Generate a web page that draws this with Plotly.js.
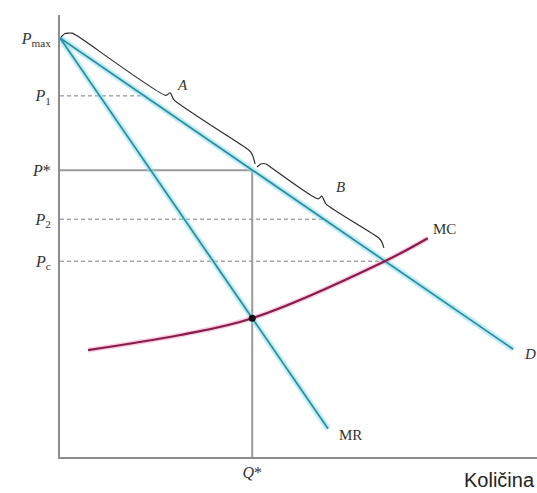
<!DOCTYPE html>
<html>
<head>
<meta charset="utf-8">
<script src="https://cdn.plot.ly/plotly-3.0.1.min.js"></script>
<style>html,body{margin:0;padding:0;background:#fff;}#chart{width:537px;height:493px;}</style>
</head>
<body>
<div id="chart"></div>
<script>
// ---- data ----
const priceLabels = ['<i>P</i><sub>max</sub>', '<i>P</i><sub>1</sub>', '<i>P</i>*', '<i>P</i><sub>2</sub>', '<i>P</i><sub>c</sub>'];
const priceValues = [94.8, 81.7, 64.9, 53.8, 44.3];
const demandQ = [0, 95];
const demandP = [94.8, 24.4];
const mrQ = [0, 56.2];
const mrP = [94.8, 6.4];
const mcQ = [5.9, 25.2, 40.3, 68.1, 77.1];
const mcP = [24.2, 27.6, 31.4, 44.3, 49.5];
const qStar = 40.3;
const mcAtQStar = 31.4;
const qLabel = '<i>Q</i>*';
const braceAQ = [0.2, 1.05, 2.5, 4.0, 22.2, 23.1, 23.9, 39.0, 40.0, 40.5, 40.9];
const braceAP = [95.0, 95.8, 95.9, 95.0, 81.8, 82.4, 80.8, 69.9, 69.0, 67.9, 66.3];
const braceBQ = [41.3, 42.1, 43.2, 44.4, 54.1, 54.9, 55.8, 66.9, 67.5, 67.9];
const braceBP = [65.6, 66.3, 66.3, 65.4, 58.4, 59.0, 57.2, 49.5, 48.6, 47.3];
const curveLabels = ['D', 'MR', 'MC', 'A', 'B'];
const curveLabelQ = [98.6, 60.8, 80.6, 25.6, 58.9];
const curveLabelP = [23.4, 5.0, 51.6, 84.2, 61.0];
const xTitle = 'Količina';

// ---- derived ----
const dSlope = (demandP[1] - demandP[0]) / (demandQ[1] - demandQ[0]);
const qOnDemand = p => (p - demandP[0]) / dSlope;

const teal = '#2c8f9d', tealGlow = 'rgba(140,222,238,0.55)';
const mag = '#8a1c4c', magGlow = 'rgba(240,160,195,0.5)';
const traces = [];

// horizontal guides
priceValues.forEach((p, i) => {
  if (i === 0) return;
  const isStar = i === 2;
  traces.push({x: [0, qOnDemand(p)], y: [p, p], mode: 'lines', hoverinfo: 'skip',
    line: isStar ? {color: '#9a9a9a', width: 2} : {color: '#7a7a7a', width: 1, dash: '4px,3px'}});
});
// vertical Q*
traces.push({x: [qStar, qStar], y: [0, priceValues[2]], mode: 'lines', hoverinfo: 'skip',
  line: {color: '#9a9a9a', width: 2}});

// glows
traces.push({x: demandQ, y: demandP, mode: 'lines', line: {color: tealGlow, width: 6}, hoverinfo: 'skip'});
traces.push({x: mrQ, y: mrP, mode: 'lines', line: {color: tealGlow, width: 6}, hoverinfo: 'skip'});
traces.push({x: mcQ, y: mcP, mode: 'lines', line: {color: magGlow, width: 5, shape: 'spline', smoothing: 1}, hoverinfo: 'skip'});
// cores
traces.push({x: demandQ, y: demandP, mode: 'lines', line: {color: teal, width: 1.8}, name: 'D'});
traces.push({x: mrQ, y: mrP, mode: 'lines', line: {color: teal, width: 1.8}, name: 'MR'});
traces.push({x: mcQ, y: mcP, mode: 'lines', line: {color: mag, width: 2.2, shape: 'spline', smoothing: 1}, name: 'MC'});

// braces
traces.push({x: braceAQ, y: braceAP, mode: 'lines', line: {color: '#2a2a2a', width: 1.2, shape: 'spline', smoothing: 0.6}, hoverinfo: 'skip'});
traces.push({x: braceBQ, y: braceBP, mode: 'lines', line: {color: '#2a2a2a', width: 1.2, shape: 'spline', smoothing: 0.6}, hoverinfo: 'skip'});

// intersection dot
traces.push({x: [qStar], y: [mcAtQStar], mode: 'markers', marker: {color: '#111', size: 7}, hoverinfo: 'skip'});

const serif = {family: 'Liberation Serif, Times New Roman, serif', size: 15, color: '#333'};
const tickSerif = {family: 'Liberation Serif, Times New Roman, serif', size: 16, color: '#333'};
const annotations = curveLabels.map((t, i) => ({
  x: curveLabelQ[i], y: curveLabelP[i], text: (t === 'D' || t === 'A' || t === 'B') ? '<i>' + t + '</i>' : t,
  showarrow: false, font: serif, xanchor: 'center', yanchor: 'middle'
}));
annotations.push({x: 1, xref: 'paper', xanchor: 'right', y: 0, yref: 'paper', yanchor: 'top', yshift: -10,
  text: xTitle, showarrow: false, font: {family: 'Liberation Sans, Arial, sans-serif', size: 20, color: '#222'}});

const layout = {
  width: 537, height: 493,
  margin: {l: 60, r: 0, t: 15, b: 36},
  paper_bgcolor: '#fff', plot_bgcolor: '#fff',
  showlegend: false,
  xaxis: {range: [0, 100], showline: true, linecolor: '#8c8c8c', linewidth: 2, showgrid: false, zeroline: false,
    tickvals: [qStar], ticktext: [qLabel], ticks: '', tickfont: tickSerif, fixedrange: true},
  yaxis: {range: [0, 100], showline: true, linecolor: '#8c8c8c', linewidth: 2, showgrid: false, zeroline: false,
    tickvals: priceValues, ticktext: priceLabels, ticks: '', tickfont: tickSerif, ticklabelstandoff: 4, fixedrange: true},
  annotations: annotations
};

Plotly.newPlot('chart', traces, layout, {displayModeBar: false, staticPlot: true});
</script>
</body>
</html>
